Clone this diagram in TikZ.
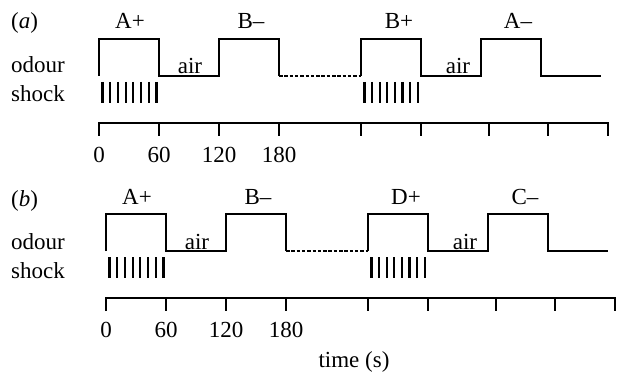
\documentclass[tikz,border=0pt]{standalone}
\usepackage{fontspec}
\setmainfont{Liberation Serif}
\begin{document}
\begin{tikzpicture}[x=1pt,y=-1pt,
  every node/.style={font=\fontsize{23}{27}\selectfont, inner sep=0pt},
  trace/.style={line width=2.4pt, line join=miter},
  gapline/.style={line width=1.8pt, dash pattern=on 3.5pt off 1.8pt},
  shockbar/.style={line width=2.2pt},
  axisline/.style={line width=2.3pt},
  lbl/.style={anchor=base},
  rowlbl/.style={anchor=base west}]
\useasboundingbox (0,0) rectangle (617,374);

% one trial sequence: odour trace, shocks, time axis
% #1 name prefix, #2-#5 odour labels
\newcommand\trialrow[5]{%
  \node[lbl] (#1-o1) at (130,29) {#2};
  \node[lbl] (#1-o2) at (251,29) {#3};
  \node[lbl] (#1-o3) at (399,29) {#4};
  \node[lbl] (#1-o4) at (518,29) {#5};
  \node[lbl] (#1-air1) at (190,74) {air};
  \node[lbl] (#1-air2) at (458,74) {air};
  \draw[trace] (99,76) -- (99,39) -- (159,39) -- (159,76) -- (219,76)
    -- (219,39) -- (279,39) -- (279,76);
  \draw[gapline] (279,76) -- (361,76);
  \draw[trace] (361,76) -- (361,39) -- (421,39) -- (421,76) -- (481,76)
    -- (481,39) -- (541,39) -- (541,76) -- (601,76);
  \foreach \i in {0,...,7} {
    \draw[shockbar] ({102.5+\i*7.7},82) -- ++(0,21);
    \draw[shockbar] ({364.5+\i*7.6},82) -- ++(0,21);
  }
  \draw[axisline] (99,136) -- (99,123) -- (608,123) -- (608,136);
  \foreach \t in {159,219,279,361,421,489,548}
    \draw[axisline] (\t,123) -- (\t,136);
  \node[lbl] (#1-t0) at (99,162) {0};
  \node[lbl] (#1-t60) at (159,162) {60};
  \node[lbl] (#1-t120) at (219,162) {120};
  \node[lbl] (#1-t180) at (279,162) {180};
}

% panel (a)
\node[rowlbl] (a-tag) at (11,29) {(\textit{a})};
\node[rowlbl] (a-odour) at (11,73) {odour};
\node[rowlbl] (a-shock) at (11,102) {shock};
\trialrow{a}{A+}{B–}{B+}{A–}

% panel (b)
\node[rowlbl] (b-tag) at (11,206) {(\textit{b})};
\node[rowlbl] (b-odour) at (11,249) {odour};
\node[rowlbl] (b-shock) at (11,278) {shock};
\begin{scope}[shift={(7,175)}]
  \trialrow{b}{A+}{B–}{D+}{C–}
\end{scope}

\node[lbl] (time) at (354,367) {time (s)};
\end{tikzpicture}
\end{document}
